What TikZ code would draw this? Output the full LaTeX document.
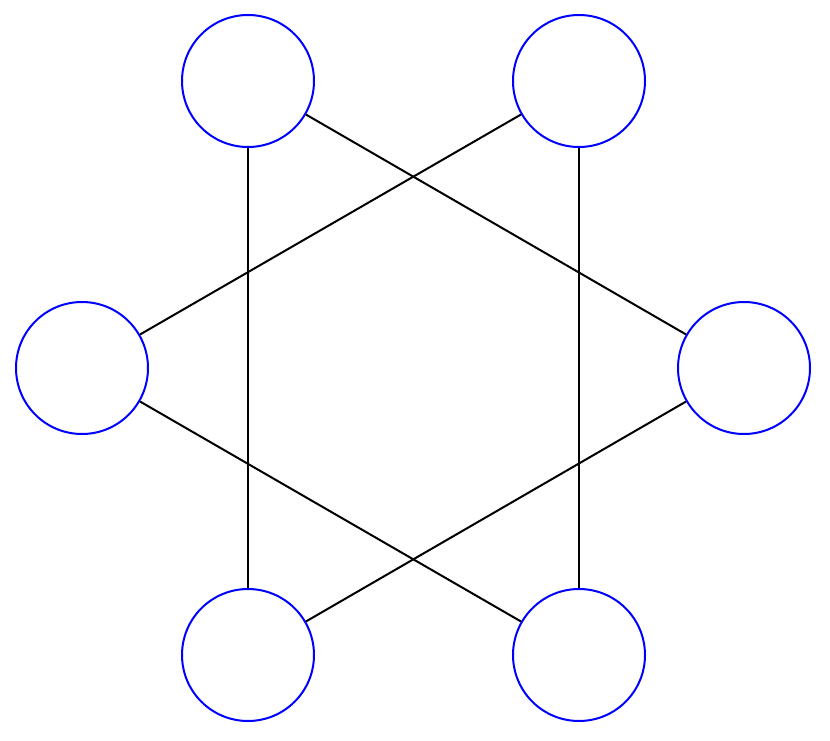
\documentclass[tikz,border=0pt]{standalone}
\begin{document}
\begin{tikzpicture}[x=1pt,y=-1pt,
  vtx/.style={circle,draw=blue,line width=2pt,minimum size=132pt,inner sep=0pt},
  edge/.style={draw=black,line width=2pt}]
\useasboundingbox (0,0) rectangle (830,741);
\node[vtx] (tl) at (248,81) {};
\node[vtx] (tr) at (579,81) {};
\node[vtx] (l) at (82,368) {};
\node[vtx] (r) at (744,368) {};
\node[vtx] (bl) at (248,655) {};
\node[vtx] (br) at (579,655) {};
\draw[edge] (tl) -- (bl);
\draw[edge] (tr) -- (br);
\draw[edge] (tl) -- (r);
\draw[edge] (tr) -- (l);
\draw[edge] (l) -- (br);
\draw[edge] (r) -- (bl);
\end{tikzpicture}
\end{document}
